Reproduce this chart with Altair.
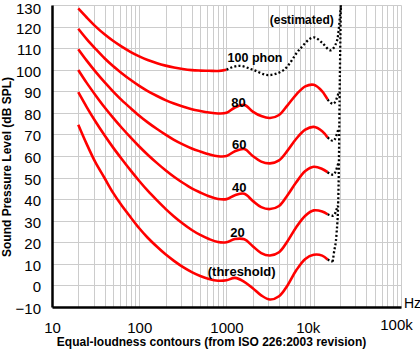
import altair as alt
import pandas as pd

# ---------------- data ----------------
FREQ_LOW = [20, 25, 31.5, 40, 50, 63, 80, 100, 125, 160, 200, 250, 315, 400,
            500, 630, 800, 1000, 1250, 1600, 2000]
FREQ_HIGH = [2500, 3150, 4000, 5000, 6300, 8000, 10000, 12500, 14400]
FREQ_100 = [20, 25, 31.5, 40, 50, 63, 80, 100, 125, 160, 200, 250, 315, 400,
            500, 630, 800, 1000]

SPL_THRESHOLD = [74.5, 65.5, 57.0, 49.8, 43.0, 37.0, 31.5, 26.5, 22.1, 17.9, 14.4,
                 11.4, 8.6, 6.2, 4.4, 3.0, 2.2, 2.4, 3.5, 1.7, -1.3,
                 -4.6, -6.5, -5.0, 0.0, 7.0, 12.3, 14.2, 13.8, 12.0]
SPL_20 = [89.6, 82.7, 76.0, 69.6, 64.0, 58.6, 53.2, 48.4, 43.9, 39.4, 35.5,
          32.0, 28.7, 25.7, 23.4, 21.5, 20.1, 20.0, 21.5, 21.4, 18.2,
          15.0, 13.9, 15.4, 20.5, 27.0, 32.3, 34.8, 34.3, 33.0]
SPL_40 = [99.9, 93.9, 88.2, 82.6, 77.8, 73.1, 68.5, 64.4, 60.6, 56.7, 53.4,
          50.4, 47.6, 45.0, 43.1, 41.3, 40.1, 40.0, 41.8, 42.5, 39.2,
          36.3, 35.4, 36.8, 41.8, 47.8, 53.0, 55.0, 54.0, 52.5]
SPL_60 = [109.5, 104.2, 99.1, 94.2, 90.0, 85.9, 82.1, 78.7, 75.6, 72.5, 69.9,
          67.5, 65.4, 63.5, 62.1, 60.8, 59.9, 60.0, 62.2, 63.2, 60.0,
          57.4, 56.6, 58.0, 62.5, 68.0, 72.2, 73.5, 71.5, 68.6]
SPL_80 = [119.0, 114.2, 109.7, 105.3, 101.7, 98.4, 95.2, 92.5, 90.1, 87.8, 85.9,
          84.3, 82.9, 81.7, 80.9, 80.2, 79.7, 80.0, 82.5, 83.7, 80.6,
          78.5, 77.6, 79.0, 83.5, 88.5, 92.3, 93.0, 90.0, 86.2]
SPL_100 = [128.4, 124.2, 120.1, 116.4, 113.4, 110.7, 108.2, 106.2, 104.5, 103.0,
           101.9, 101.0, 100.3, 99.8, 99.6, 99.5, 99.4, 100.0]

# dotted (estimated) parts
EST_100_F = [1000, 1400, 2000, 3000, 4500, 7000, 10000, 12500, 15500, 18500, 20450]
EST_100_SPL = [100.0, 101.8, 100.0, 97.5, 99.8, 109.8, 115.0, 112.5, 109.0, 113.5, 130.0]
LIMIT_F = [16500, 17000, 18260, 19100, 19400, 19770, 20450]
LIMIT_SPL = [11.0, 14.9, 24.1, 39.6, 55.0, 85.9, 130.0]
TAIL_80_F, TAIL_80_SPL = [14400, 16700, 19500], [86.2, 84.2, 90.0]
TAIL_60_F, TAIL_60_SPL = [14400, 16700, 19300], [68.6, 67.0, 73.0]
TAIL_40_F, TAIL_40_SPL = [14400, 16700, 19200], [52.5, 51.3, 57.0]
TAIL_20_F, TAIL_20_SPL = [14400, 16700, 18800], [33.0, 32.3, 37.0]
TAIL_0_F, TAIL_0_SPL = [14400, 16500], [12.0, 11.0]

# annotations
LABEL_TEXT = ["100 phon", "80", "60", "40", "20", "(threshold)", "(estimated)"]
LABEL_F = [2124, 1373, 1400, 1400, 1337, 1493, 7278]
LABEL_SPL = [105.2, 84.5, 65.0, 45.0, 24.1, 6.0, 122.9]
LABEL_SIZE = [12.5, 13, 13, 13, 13, 13, 12]

DECADES = [10, 100, 1000, 10000, 100000]
DECADE_LABELS = ["10", "100", "1000", "10k", "100k"]
X_GRID = [m * d for d in [10, 100, 1000, 10000] for m in range(1, 10)] + [100000]
Y_TICKS = list(range(-10, 131, 10))

X_TITLE = "Equal-loudness contours (from ISO 226:2003 revision)"
Y_TITLE = "Sound Pressure Level (dB SPL)"

# ---------------- tables ----------------
solid_rows = []
full_f = FREQ_LOW + FREQ_HIGH
for name, vals, fr in [("thr", SPL_THRESHOLD, full_f), ("20", SPL_20, full_f),
                       ("40", SPL_40, full_f), ("60", SPL_60, full_f),
                       ("80", SPL_80, full_f), ("100", SPL_100, FREQ_100)]:
    for f, v in zip(fr, vals):
        solid_rows.append({"curve": name, "f": f, "spl": v})
solid_df = pd.DataFrame(solid_rows)

dot_rows = []
for name, fr, vals in [("e100", EST_100_F, EST_100_SPL), ("lim", LIMIT_F, LIMIT_SPL),
                       ("t80", TAIL_80_F, TAIL_80_SPL), ("t60", TAIL_60_F, TAIL_60_SPL),
                       ("t40", TAIL_40_F, TAIL_40_SPL), ("t20", TAIL_20_F, TAIL_20_SPL),
                       ("t0", TAIL_0_F, TAIL_0_SPL)]:
    for f, v in zip(fr, vals):
        dot_rows.append({"curve": name, "f": f, "spl": v})
dot_df = pd.DataFrame(dot_rows)

label_df = pd.DataFrame({"t": LABEL_TEXT, "f": LABEL_F, "spl": LABEL_SPL, "fs": LABEL_SIZE})
hz_df = pd.DataFrame({"t": ["Hz"], "f": [100000], "spl": [-10]})

FONT = "Liberation Sans"

label_expr = " : ".join(
    f"datum.value == {v} ? '{l}'" for v, l in zip(DECADES, DECADE_LABELS)) + " : ''"

x_scale = alt.Scale(type="log", domain=[10, 100000], nice=False)
y_scale = alt.Scale(domain=[-10, 130], nice=False, zero=False)

x_axis = alt.Axis(
    values=X_GRID, grid=True, gridColor="#cccccc", gridWidth=1,
    domainColor="black", domainWidth=2.5, ticks=False, tickSize=0,
    labelExpr=label_expr, labelFont=FONT, labelFontSize=15, labelColor="black",
    labelOverlap=False, labelFlush=False, labelBaseline="alphabetic",
    labelPadding={"condition": {"test": "datum.value == 100000", "value": 22}, "value": 25},
    labelOffset={"condition": [{"test": "datum.value == 10000", "value": -6},
                               {"test": "datum.value == 100000", "value": -5}], "value": 0},
    title=X_TITLE, titleFont=FONT, titleFontSize=12, titleFontWeight="bold",
    titleColor="black", titleX=159, titleY=38, titleAlign="center",
    titleBaseline="alphabetic", titleAnchor="start",
)
y_axis = alt.Axis(
    values=Y_TICKS, grid=True, gridColor="#cccccc", gridWidth=1,
    domainColor="black", domainWidth=2.5, ticks=False, tickSize=0,
    labelFont=FONT, labelFontSize=15, labelColor="black", labelPadding=11.5,
    labelBaseline="alphabetic",
    labelOffset={"condition": {"test": "datum.value == 130", "value": 8.5}, "value": 6.5},
    labelOverlap=False, labelFlush=False,
    title=Y_TITLE, titleFont=FONT, titleFontSize=12, titleFontWeight="bold",
    titleColor="black", titleAngle=270, titleX=-42, titleY=161.5,
    titleAlign="center", titleBaseline="alphabetic", titleAnchor="start",
)

X = alt.X("f:Q", scale=x_scale, axis=x_axis)
Y = alt.Y("spl:Q", scale=y_scale, axis=y_axis)

solid = alt.Chart(solid_df).mark_line(
    color="#ff0000", strokeWidth=2.6, interpolate="catmull-rom", clip=False
).encode(x=X, y=Y, detail="curve:N")

dotted = alt.Chart(dot_df).mark_line(
    color="black", strokeWidth=2.3, strokeDash=[2, 2.2], strokeCap="butt",
    interpolate="monotone"
).encode(x=X, y=Y, detail="curve:N")

labels = alt.Chart(label_df).mark_text(
    font=FONT, fontWeight="bold", color="black", align="center", baseline="middle"
).encode(x=X, y=Y, text="t:N", size=alt.Size("fs:Q", scale=None))

hz = alt.Chart(hz_df).mark_text(
    font=FONT, fontSize=14, color="black", align="left", baseline="alphabetic", dx=3, dy=1
).encode(x=X, y=Y, text="t:N")

chart = alt.layer(solid, dotted, labels, hz).properties(
    width=349, height=302,
    autosize=alt.AutoSizeParams(type="none"),
    padding={"left": 52, "top": 5, "right": 19, "bottom": 47},
    background="white",
).configure_view(stroke=None)

chart.save("out.html", embed_options={"renderer": "svg", "actions": False})
